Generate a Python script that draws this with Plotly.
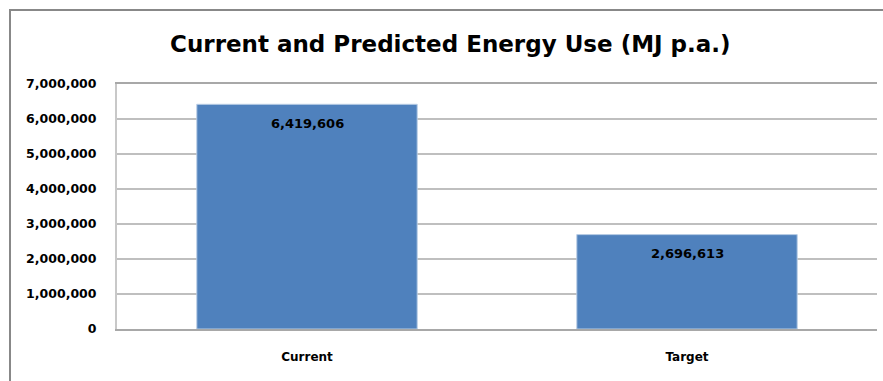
import plotly.graph_objects as go

categories = ["Current", "Target"]
values = [6419606, 2696613]
tick_vals = [0, 1000000, 2000000, 3000000, 4000000, 5000000, 6000000, 7000000]

FONT = "DejaVu Sans, sans-serif"

fig = go.Figure()
fig.add_trace(go.Bar(
    x=categories, y=values,
    marker=dict(color="#4f81bd", line=dict(color="#b9cde5", width=1)),
    hoverinfo="skip",
))

for c, v in zip(categories, values):
    fig.add_annotation(x=c, y=v, text=f"{v:,}", showarrow=False,
                       yshift=-19, yanchor="middle", xanchor="center",
                       font=dict(family=FONT, size=13, color="black", weight="bold"))

fig.update_layout(
    width=883, height=381,
    margin=dict(l=117, r=6, t=84, b=52),
    paper_bgcolor="white", plot_bgcolor="white",
    bargap=0.42,
    showlegend=False,
    title=dict(text="<b>Current and Predicted Energy Use (MJ p.a.)</b>",
               x=0.51, xanchor="center", y=1 - 44 / 381, yanchor="middle",
               font=dict(family=FONT, size=23, color="black")),
    shapes=[dict(type="rect", xref="paper", yref="paper",
                 x0=-107 / 760, x1=1.2, y0=-0.5, y1=1 + 74 / 245,
                 line=dict(color="#888888", width=2), layer="below")],
)
fig.update_yaxes(range=[0, 7000000], tickvals=tick_vals, tickformat=",",
                 showgrid=True, gridcolor="#bfbfbf", gridwidth=2,
                 showline=True, linecolor="#c8c8c8", linewidth=2,
                 ticks="", ticklabelstandoff=16,
                 tickfont=dict(family=FONT, size=12.5, color="black", weight="bold"),
                 zeroline=False)
fig.update_xaxes(showline=True, linecolor="#a8a8a8", linewidth=2, mirror=True,
                 ticks="", ticklabelstandoff=16,
                 tickfont=dict(family=FONT, size=12, color="black", weight="bold"))

fig.write_html("out.html")
